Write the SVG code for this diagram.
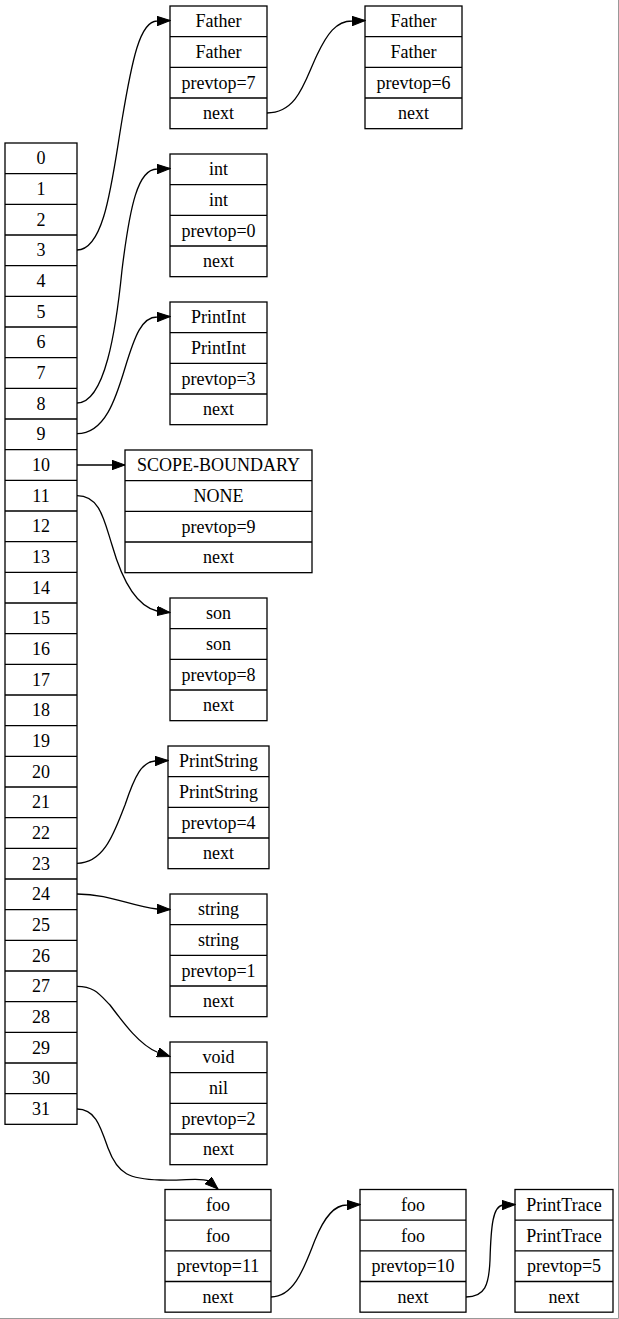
<svg xmlns="http://www.w3.org/2000/svg" width="619" height="1319" viewBox="0 0 619 1319">
<style>
rect.b{fill:#fff;stroke:#000;stroke-width:1.3}
path.s{fill:none;stroke:#000;stroke-width:1.3}
text{font-family:"Liberation Serif","Times New Roman",serif;font-size:18px;text-anchor:middle;fill:#000}
.e path{fill:none;stroke:#000;stroke-width:1.3;marker-end:url(#ah)}
</style>
<defs>
<marker id="ah" markerUnits="userSpaceOnUse" markerWidth="14" markerHeight="10" refX="13" refY="4.7" orient="auto" viewBox="0 0 14 10">
<path d="M0,0 L13,4.7 L0,9.4 z" fill="#000" stroke="#000" stroke-width="1"/>
</marker>
</defs>
<rect x="0" y="0" width="619" height="1319" fill="#fff"/>
<path d="M618.5,0 V1318.5 H0" fill="none" stroke="#999" stroke-width="1"/>

<g id="array">
<rect class="b" x="5" y="143" width="72" height="981.33"/>
<path class="s" d="M5,173.67H77M5,204.33H77M5,235H77M5,265.67H77M5,296.33H77M5,327H77M5,357.67H77M5,388.33H77M5,419H77M5,449.67H77M5,480.33H77M5,511H77M5,541.67H77M5,572.33H77M5,603H77M5,633.67H77M5,664.33H77M5,695H77M5,725.67H77M5,756.33H77M5,787H77M5,817.67H77M5,848.33H77M5,879H77M5,909.67H77M5,940.33H77M5,971H77M5,1001.67H77M5,1032.33H77M5,1063H77M5,1093.67H77"/>
<text x="41" y="164.3">0</text>
<text x="41" y="195">1</text>
<text x="41" y="225.7">2</text>
<text x="41" y="256.3">3</text>
<text x="41" y="287">4</text>
<text x="41" y="317.7">5</text>
<text x="41" y="348.3">6</text>
<text x="41" y="379">7</text>
<text x="41" y="409.7">8</text>
<text x="41" y="440.3">9</text>
<text x="41" y="471">10</text>
<text x="41" y="501.7">11</text>
<text x="41" y="532.3">12</text>
<text x="41" y="563">13</text>
<text x="41" y="593.7">14</text>
<text x="41" y="624.3">15</text>
<text x="41" y="655">16</text>
<text x="41" y="685.7">17</text>
<text x="41" y="716.3">18</text>
<text x="41" y="747">19</text>
<text x="41" y="777.7">20</text>
<text x="41" y="808.3">21</text>
<text x="41" y="839">22</text>
<text x="41" y="869.7">23</text>
<text x="41" y="900.3">24</text>
<text x="41" y="931">25</text>
<text x="41" y="961.7">26</text>
<text x="41" y="992.3">27</text>
<text x="41" y="1023">28</text>
<text x="41" y="1053.7">29</text>
<text x="41" y="1084.3">30</text>
<text x="41" y="1115">31</text>
</g>

<g id="father1" transform="translate(170,6)">
<rect class="b" width="97" height="122.67"/>
<path class="s" d="M0,30.67H97M0,61.33H97M0,92H97"/>
<text x="48.5" y="21.3">Father</text><text x="48.5" y="52">Father</text><text x="48.5" y="82.7">prevtop=7</text><text x="48.5" y="113.3">next</text>
</g>
<g id="father2" transform="translate(365,6)">
<rect class="b" width="97" height="122.67"/>
<path class="s" d="M0,30.67H97M0,61.33H97M0,92H97"/>
<text x="48.5" y="21.3">Father</text><text x="48.5" y="52">Father</text><text x="48.5" y="82.7">prevtop=6</text><text x="48.5" y="113.3">next</text>
</g>
<g id="int" transform="translate(170,154)">
<rect class="b" width="97" height="122.67"/>
<path class="s" d="M0,30.67H97M0,61.33H97M0,92H97"/>
<text x="48.5" y="21.3">int</text><text x="48.5" y="52">int</text><text x="48.5" y="82.7">prevtop=0</text><text x="48.5" y="113.3">next</text>
</g>
<g id="printint" transform="translate(170,302)">
<rect class="b" width="97" height="122.67"/>
<path class="s" d="M0,30.67H97M0,61.33H97M0,92H97"/>
<text x="48.5" y="21.3">PrintInt</text><text x="48.5" y="52">PrintInt</text><text x="48.5" y="82.7">prevtop=3</text><text x="48.5" y="113.3">next</text>
</g>
<g id="scope" transform="translate(125,450)">
<rect class="b" width="187" height="122.67"/>
<path class="s" d="M0,30.67H187M0,61.33H187M0,92H187"/>
<text x="93.5" y="21.3">SCOPE-BOUNDARY</text><text x="93.5" y="52">NONE</text><text x="93.5" y="82.7">prevtop=9</text><text x="93.5" y="113.3">next</text>
</g>
<g id="son" transform="translate(170,598)">
<rect class="b" width="97" height="122.67"/>
<path class="s" d="M0,30.67H97M0,61.33H97M0,92H97"/>
<text x="48.5" y="21.3">son</text><text x="48.5" y="52">son</text><text x="48.5" y="82.7">prevtop=8</text><text x="48.5" y="113.3">next</text>
</g>
<g id="printstring" transform="translate(168,746)">
<rect class="b" width="101" height="122.67"/>
<path class="s" d="M0,30.67H101M0,61.33H101M0,92H101"/>
<text x="50.5" y="21.3">PrintString</text><text x="50.5" y="52">PrintString</text><text x="50.5" y="82.7">prevtop=4</text><text x="50.5" y="113.3">next</text>
</g>
<g id="string" transform="translate(170,894)">
<rect class="b" width="97" height="122.67"/>
<path class="s" d="M0,30.67H97M0,61.33H97M0,92H97"/>
<text x="48.5" y="21.3">string</text><text x="48.5" y="52">string</text><text x="48.5" y="82.7">prevtop=1</text><text x="48.5" y="113.3">next</text>
</g>
<g id="void" transform="translate(170,1042)">
<rect class="b" width="97" height="122.67"/>
<path class="s" d="M0,30.67H97M0,61.33H97M0,92H97"/>
<text x="48.5" y="21.3">void</text><text x="48.5" y="52">nil</text><text x="48.5" y="82.7">prevtop=2</text><text x="48.5" y="113.3">next</text>
</g>
<g id="foo1" transform="translate(165,1189.5)">
<rect class="b" width="106" height="122.67"/>
<path class="s" d="M0,30.67H106M0,61.33H106M0,92H106"/>
<text x="53" y="21.3">foo</text><text x="53" y="52">foo</text><text x="53" y="82.7">prevtop=11</text><text x="53" y="113.3">next</text>
</g>
<g id="foo2" transform="translate(360,1189.5)">
<rect class="b" width="106" height="122.67"/>
<path class="s" d="M0,30.67H106M0,61.33H106M0,92H106"/>
<text x="53" y="21.3">foo</text><text x="53" y="52">foo</text><text x="53" y="82.7">prevtop=10</text><text x="53" y="113.3">next</text>
</g>
<g id="printtrace" transform="translate(515,1189.5)">
<rect class="b" width="98" height="122.67"/>
<path class="s" d="M0,30.67H98M0,61.33H98M0,92H98"/>
<text x="49" y="21.3">PrintTrace</text><text x="49" y="52">PrintTrace</text><text x="49" y="82.7">prevtop=5</text><text x="49" y="113.3">next</text>
</g>

<g id="edges" class="e">
<path d="M77,250 C105,250 112,180 122,120 C132,60 140,21 157,21 L170,20.5"/>
<path d="M267,113 C298,113 305,80 317,55 C327,34 336,21 352,21 L365,20.5"/>
<path d="M77,403 C105,403 116,330 122,270 C130,205 138,169 157,169 L170,168.5"/>
<path d="M77,433.7 C105,433.7 116,398 125,368 C135,335 142,317 157,317 L170,316.5"/>
<path d="M77,465 L125,465"/>
<path d="M77,495.7 C100,495.7 104,520 112,545 C122,580 136,606 157,611 L170,612.5"/>
<path d="M77,863.3 C105,863.3 115,830 125,805 C135,775 142,762 155,761 L168,760.5"/>
<path d="M77,894 C110,894 130,906 157,909 L170,909.5"/>
<path d="M77,986.3 C95,986.3 100,995 110,1005 C125,1025 140,1045 157,1052 L170,1056.5"/>
<path d="M77,1109 C95,1109 100,1125 108,1148 C118,1175 130,1179 160,1180 C185,1181 200,1177 209,1181 L218,1189"/>
<path d="M271,1297 C295,1297 305,1265 315,1240 C325,1215 335,1205 347,1205 L360,1204.5"/>
<path d="M466,1297 C485,1297 489,1285 490,1260 C491,1225 493,1206 503,1205 L515,1204.5"/>
</g>
</svg>
